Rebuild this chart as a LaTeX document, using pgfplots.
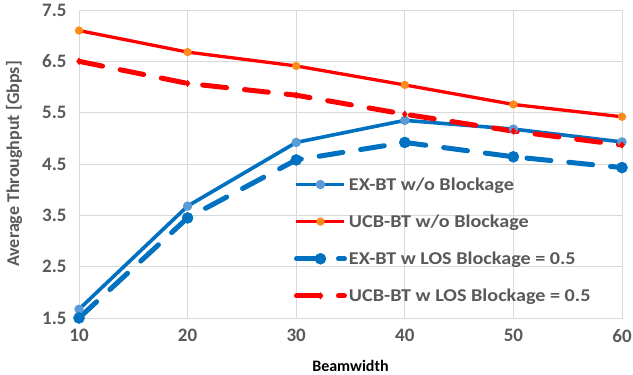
\documentclass[border=0pt]{standalone}
\usepackage{pgfplots}
\pgfplotsset{compat=1.18}
\usepackage{fontspec}
\setmainfont{Carlito}
\newfontfamily\legfont{Carlito}[FakeStretch=1.12]
\definecolor{exblue}{HTML}{0070C0}
\definecolor{exlight}{HTML}{5B9BD5}
\definecolor{ucbred}{HTML}{FF0000}
\definecolor{ucborange}{HTML}{FF8C1A}
\definecolor{gridc}{HTML}{D9D9D9}
\definecolor{tickc}{HTML}{595959}
\begin{document}
\begin{tikzpicture}
\useasboundingbox (0,0) rectangle (633pt,375pt);
\begin{axis}[
  at={(79pt,57pt)}, anchor=south west,
  scale only axis, width=543pt, height=308pt,
  xmin=10, xmax=60, ymin=1.5, ymax=7.5,
  xtick={10,20,30,40,50,60},
  ytick={1.5,2.5,3.5,4.5,5.5,6.5,7.5},
  yticklabel style={/pgf/number format/fixed,/pgf/number format/precision=1,/pgf/number format/fixed zerofill},
  /pgf/number format/assume math mode=true,
  major tick length=0pt,
  grid=major,
  grid style={gridc, line width=0.8pt},
  axis line style={gridc, line width=0.8pt},
  tick label style={font=\fontsize{19}{21}\selectfont\bfseries, text=tickc},
  xticklabel style={yshift=-8pt},
  yticklabel style={xshift=-9pt},
  xlabel={\textbf{Beamwidth}},
  xlabel style={font=\fontsize{16}{18}\selectfont, text=black, yshift=-11pt},
  ylabel={\textbf{Average Throughput [Gbps]}},
  ylabel style={font=\fontsize{18}{20}\selectfont, text=tickc, yshift=13pt},
  legend style={draw=none, fill=none, at={(0.39,0.47)}, anchor=north west,
    font=\legfont\fontsize{18}{20}\selectfont\bfseries, text=tickc,
    row sep=19pt, cells={anchor=west}},
  legend cell align=left,
  legend image code/.code={\draw[#1, mark repeat=2, mark phase=2] plot coordinates {(0pt,0pt)(24pt,0pt)(48pt,0pt)};},
]
\addplot[exblue, line width=3.6pt, mark=*, mark size=2.8pt, mark options={exlight, draw=exlight, fill=exlight, solid}]
  coordinates {(10,1.67)(20,3.68)(30,4.92)(40,5.35)(50,5.18)(60,4.93)};
\addlegendentry{EX-BT w/o Blockage}
\addplot[ucbred, line width=3.3pt, mark=*, mark size=2.4pt, mark options={ucborange, draw=ucborange, fill=ucborange, solid}]
  coordinates {(10,7.10)(20,6.68)(30,6.41)(40,6.04)(50,5.66)(60,5.42)};
\addlegendentry{UCB-BT w/o Blockage}
\addplot[exblue, line width=5pt, dash pattern=on 24pt off 18pt, line cap=round, mark=*, mark size=5.5pt, mark options={exblue, fill=exblue, solid, line width=0.5pt}]
  coordinates {(10,1.50)(20,3.45)(30,4.58)(40,4.92)(50,4.64)(60,4.43)};
\addlegendentry{EX-BT w LOS Blockage = 0.5}
\addplot[ucbred, line width=5pt, dash pattern=on 24pt off 18pt, line cap=round, mark=diamond*, mark size=3.2pt, mark options={ucbred, fill=ucbred, solid, line width=0.5pt}]
  coordinates {(10,6.50)(20,6.07)(30,5.84)(40,5.47)(50,5.14)(60,4.87)};
\addlegendentry{UCB-BT w LOS Blockage = 0.5}
\end{axis}
\end{tikzpicture}
\end{document}
